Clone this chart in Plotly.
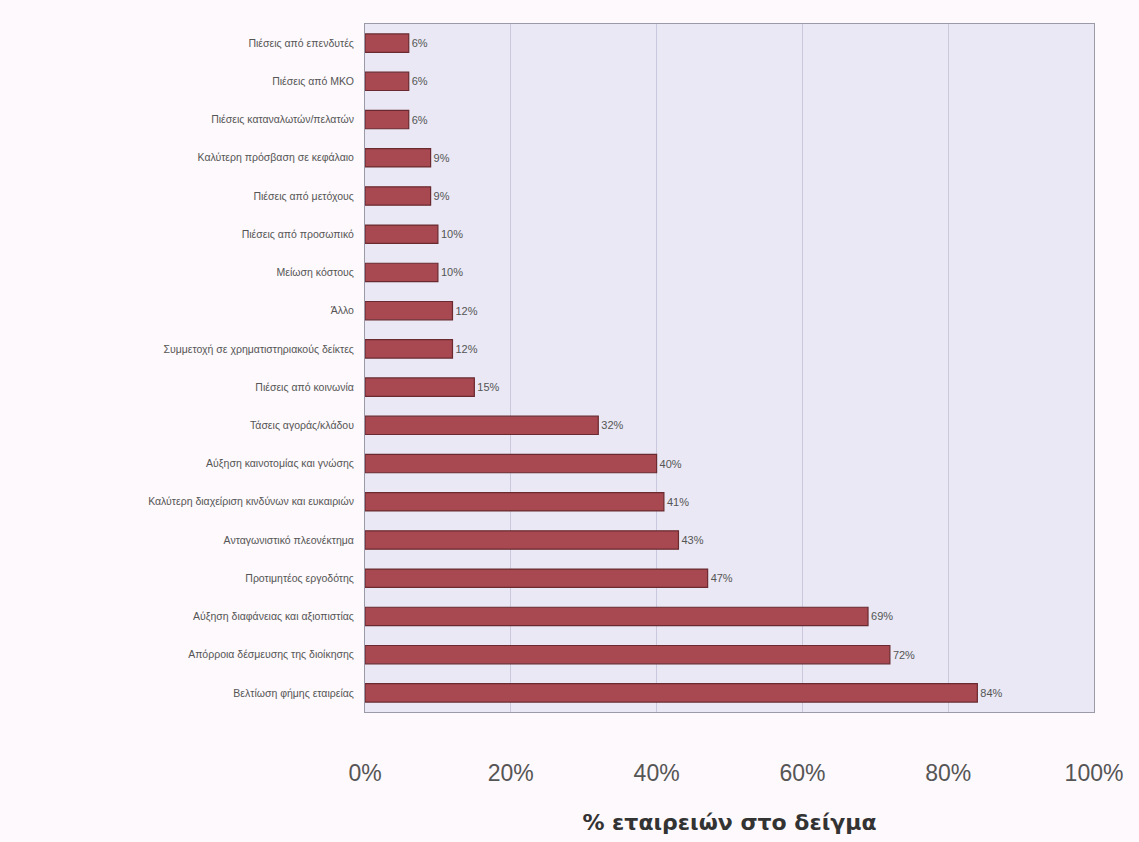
import plotly.graph_objects as go

# Motives reported by companies (top to bottom) and share of sampled companies (%)
categories = [
    "Πιέσεις από επενδυτές",
    "Πιέσεις από ΜΚΟ",
    "Πιέσεις καταναλωτών/πελατών",
    "Καλύτερη πρόσβαση σε κεφάλαιο",
    "Πιέσεις από μετόχους",
    "Πιέσεις από προσωπικό",
    "Μείωση κόστους",
    "Άλλο",
    "Συμμετοχή σε χρηματιστηριακούς δείκτες",
    "Πιέσεις από κοινωνία",
    "Τάσεις αγοράς/κλάδου",
    "Αύξηση καινοτομίας και γνώσης",
    "Καλύτερη διαχείριση κινδύνων και ευκαιριών",
    "Ανταγωνιστικό πλεονέκτημα",
    "Προτιμητέος εργοδότης",
    "Αύξηση διαφάνειας και αξιοπιστίας",
    "Απόρροια δέσμευσης της διοίκησης",
    "Βελτίωση φήμης εταιρείας",
]
shares = [6, 6, 6, 9, 9, 10, 10, 12, 12, 15, 32, 40, 41, 43, 47, 69, 72, 84]

tick_values = [0, 20, 40, 60, 80, 100]
tick_labels = ["0%", "20%", "40%", "60%", "80%", "100%"]
axis_title = "% εταιρειών στο δείγμα"

label_font = dict(family="Liberation Sans, Arial, sans-serif", size=11, color="#555555")

fig = go.Figure(
    go.Bar(
        x=shares,
        y=categories,
        orientation="h",
        width=0.48,
        marker=dict(color="#a84850", line=dict(color="#6a2a30", width=1.2)),
        text=[f"{v}%" for v in shares],
        textposition="outside",
        textfont=label_font,
        outsidetextfont=label_font,
        cliponaxis=False,
    )
)

fig.update_layout(
    width=1139,
    height=842,
    margin=dict(l=365, r=45, t=24, b=130),
    paper_bgcolor="#fdf9fc",
    plot_bgcolor="#e9e8f4",
    showlegend=False,
    xaxis=dict(
        range=[0, 100],
        tickvals=tick_values,
        ticktext=tick_labels,
        tickfont=dict(family="Liberation Sans, Arial, sans-serif", size=23, color="#555555"),
        ticks="",
        ticklabelstandoff=40,
        showgrid=True,
        gridcolor="#c9c8dc",
        gridwidth=1,
        zeroline=False,
        showline=True,
        linecolor="#9a9aa8",
        linewidth=1,
        mirror=True,
        title=dict(
            text=axis_title,
            font=dict(family="DejaVu Sans, sans-serif", size=22, color="#333333", weight="bold"),
            standoff=30,
        ),
    ),
    yaxis=dict(
        autorange="reversed",
        tickfont=dict(family="Liberation Sans, Arial, sans-serif", size=10.5, color="#555555"),
        ticks="",
        ticklabelstandoff=8,
        showgrid=False,
        showline=True,
        linecolor="#9a9aa8",
        linewidth=1,
        mirror=True,
    ),
)

fig.write_html("out.html")
